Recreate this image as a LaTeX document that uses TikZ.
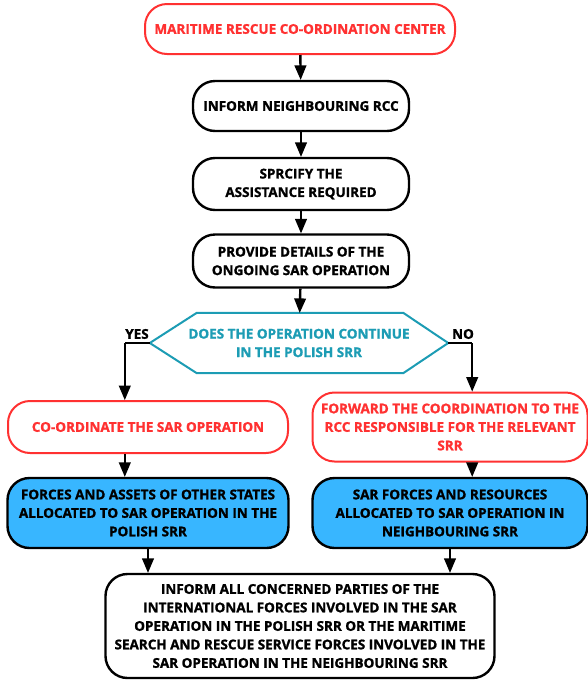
\documentclass[tikz,border=0pt]{standalone}
\usepackage{fontspec}
\setmainfont{Open Sans}[BoldFeatures={FakeBold=1.3}]
\usetikzlibrary{arrows,shapes,positioning}

\definecolor{cred}{HTML}{FF3131}
\definecolor{cblue}{HTML}{38B6FF}
\definecolor{cteal}{HTML}{1C9CB4}

\begin{document}
\begin{tikzpicture}[x=1pt,y=-1pt,
    box/.style={draw=black, line width=2.4pt, rounded corners=22pt, align=center,
      font=\fontsize{13.5}{18.5}\selectfont\bfseries, inner sep=0pt},
    redbox/.style={box, draw=cred, line width=2pt, text=cred},
    bluebox/.style={box, fill=cblue},
    arr/.style={-triangle 45, line width=2.4pt}]
  \useasboundingbox (0,0) rectangle (588,681);

  % top of the chart
  \node[redbox, minimum width=310pt, minimum height=50pt] (mrcc) at (300,29)
    {MARITIME RESCUE CO-ORDINATION CENTER};
  \node[box, minimum width=216pt, minimum height=50pt] (inform) at (301,106)
    {INFORM NEIGHBOURING RCC};
  \node[box, minimum width=216pt, minimum height=52pt] (specify) at (301,184)
    {SPRCIFY THE\\ASSISTANCE REQUIRED};
  \node[box, minimum width=216pt, minimum height=53pt] (details) at (301,261)
    {PROVIDE DETAILS OF THE\\ONGOING SAR OPERATION};

  % decision
  \node[align=center, text=cteal, font=\fontsize{13.5}{18.5}\selectfont\bfseries,
    minimum width=298pt, minimum height=60pt, inner sep=0pt] (polish) at (299,343)
    {DOES THE OPERATION CONTINUE\\IN THE POLISH SRR};
  \draw[cteal, line width=2pt, line join=round] (polish.west)
    -- ([xshift=47pt]polish.north west) -- ([xshift=-45pt]polish.north east)
    -- (polish.east) -- ([xshift=-45pt]polish.south east)
    -- ([xshift=47pt]polish.south west) -- cycle;
  \node[font=\fontsize{13.5}{14}\selectfont\bfseries] (yes) at (137,334) {YES};
  \node[font=\fontsize{13.5}{14}\selectfont\bfseries] (no) at (463,334) {NO};

  % two branches
  \node[redbox, minimum width=280pt, minimum height=52pt] (coord) at (148,427)
    {CO-ORDINATE THE SAR OPERATION};
  \node[redbox, minimum width=275pt, minimum height=69pt] (fwd) at (450,427)
    {FORWARD THE COORDINATION TO THE\\RCC RESPONSIBLE FOR THE RELEVANT\\SRR};
  \node[bluebox, minimum width=281pt, minimum height=70pt] (forces) at (148,513)
    {FORCES AND ASSETS OF OTHER STATES\\ALLOCATED TO SAR OPERATION IN THE\\POLISH SRR};
  \node[bluebox, minimum width=275pt, minimum height=70pt] (sarf) at (450,513)
    {SAR FORCES AND RESOURCES\\ALLOCATED TO SAR OPERATION IN\\NEIGHBOURING SRR};

  % bottom
  \node[box, minimum width=389pt, minimum height=104pt] (final) at (300,626)
    {INFORM ALL CONCERNED PARTIES OF THE\\INTERNATIONAL FORCES INVOLVED IN THE SAR\\%
     OPERATION IN THE POLISH SRR OR THE MARITIME\\SEARCH AND RESCUE SERVICE FORCES INVOLVED IN THE\\%
     SAR OPERATION IN THE NEIGHBOURING SRR};

  \draw[arr] (mrcc) -- (inform);
  \draw[arr] (inform) -- (specify);
  \draw[arr] (specify) -- (details);
  \draw[arr] (details) -- (polish);
  \draw[line width=2.4pt] (polish.west) -- ++(-25pt,0) coordinate (yesturn);
  \draw[arr] (yesturn) -- (yesturn |- coord.north);
  \draw[line width=2.4pt] (polish.east) -- ++(24pt,0) coordinate (noturn);
  \draw[arr] (noturn) -- (noturn |- fwd.north);
  \draw[arr] (yesturn |- coord.south) -- (yesturn |- forces.north);
  \draw[arr] (noturn |- fwd.south) -- (noturn |- sarf.north);
  \draw[arr] (forces) -- (forces |- final.north);
  \draw[arr] (sarf) -- (sarf |- final.north);
\end{tikzpicture}
\end{document}
